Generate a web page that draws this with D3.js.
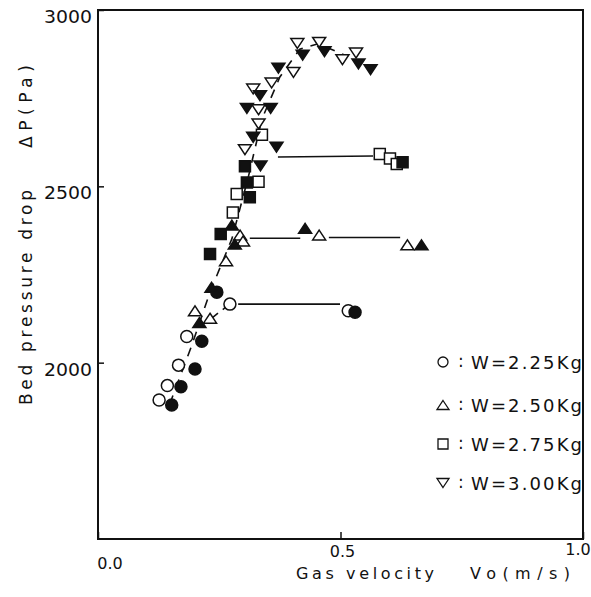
<!DOCTYPE html>
<html>
<head>
<meta charset="utf-8">
<script src="https://cdn.jsdelivr.net/npm/d3@7/dist/d3.min.js"></script>
<style>
  html, body { margin: 0; padding: 0; background: #fff; }
  svg { display: block; }
  text { font-family: "DejaVu Sans", sans-serif; fill: #111; }
</style>
</head>
<body>
<svg id="chart" width="591" height="597"></svg>
<script>
// [gas velocity (m/s), bed pressure drop (Pa)]; open = rising velocity, filled = falling
const w225Open = [[0.126,1894],[0.143,1935],[0.166,1993],[0.183,2074],[0.272,2166],[0.516,2147]];
const w225Fill = [[0.152,1880],[0.171,1932],[0.200,1982],[0.214,2061],[0.245,2200],[0.530,2143]];
const w250Open = [[0.200,2147],[0.231,2126],[0.264,2289],[0.293,2362],[0.299,2345],[0.456,2362],[0.638,2334]];
const w250Fill = [[0.209,2114],[0.234,2214],[0.276,2390],[0.282,2336],[0.427,2381],[0.667,2334]];
const w275Open = [[0.278,2426],[0.286,2478],[0.331,2513],[0.338,2646],[0.581,2592],[0.602,2579],[0.616,2563]];
const w275Fill = [[0.231,2308],[0.253,2365],[0.303,2557],[0.307,2511],[0.313,2469],[0.628,2568]];
const w300Open = [[0.303,2604],[0.320,2776],[0.331,2677],[0.331,2717],[0.358,2793],[0.403,2823],
                  [0.411,2905],[0.456,2908],[0.504,2859],[0.532,2878]];
const w300Fill = [[0.307,2721],[0.320,2639],[0.334,2757],[0.335,2558],[0.356,2721],[0.368,2611],
                  [0.372,2835],[0.422,2872],[0.467,2882],[0.537,2847],[0.562,2831]];

// dashed trend through the packed-bed branch, and the solid jump lines
const trend  = [[0.148,1883],[0.192,2044],[0.231,2200],[0.276,2351],[0.309,2521],[0.338,2691],
                [0.375,2810],[0.416,2889],[0.454,2904],[0.509,2872]];
const branch = [[0.236,2128],[0.266,2160]];
const jumps  = [
  [[0.289,2166],[0.499,2166]],
  [[0.313,2353],[0.417,2353]],
  [[0.476,2355],[0.623,2355]],
  [[0.371,2583],[0.567,2586]]
];

const xTicks = [0, 0.5, 1.0];
const yTicks = [2000, 2500, 3000];
const legendLabels = ['W=2.25Kg', 'W=2.50Kg', 'W=2.75Kg', 'W=3.00Kg'];
const legendShapes = ['circle', 'up', 'square', 'down'];

const series = [
  { data: w225Open, shape: 'circle', filled: false },
  { data: w250Open, shape: 'up',     filled: false },
  { data: w275Open, shape: 'square', filled: false },
  { data: w300Open, shape: 'down',   filled: false },
  { data: w225Fill, shape: 'circle', filled: true },
  { data: w250Fill, shape: 'up',     filled: true },
  { data: w275Fill, shape: 'square', filled: true },
  { data: w300Fill, shape: 'down',   filled: true }
];

const L = 98, R = 583, T = 10, B = 539;
const svg = d3.select('#chart');
const x = d3.scaleLinear().domain([0, 1]).range([L, R]);
const y = d3.scaleLinear().domain([1500, 3000]).range([B, T]);

// marker path centred at 0,0
function shapePath(kind, s) {
  const h = s / 2;
  if (kind === 'circle') {
    const p = d3.path(); p.arc(0, 0, h, 0, 2 * Math.PI); return p.toString();
  }
  if (kind === 'square') return `M${-h},${-h}H${h}V${h}H${-h}Z`;
  const t = s * 0.45;
  if (kind === 'up')   return `M0,${-t}L${h + 1},${t}L${-h - 1},${t}Z`;
  return `M0,${t}L${h + 1},${-t}L${-h - 1},${-t}Z`;
}

// lines
const line = d3.line().x(d => x(d[0])).y(d => y(d[1]));
svg.append('path').attr('d', line(trend))
  .attr('fill', 'none').attr('stroke', '#111').attr('stroke-width', 1.6)
  .attr('stroke-dasharray', '9,8');
svg.append('path').attr('d', line(branch))
  .attr('fill', 'none').attr('stroke', '#111').attr('stroke-width', 1.6)
  .attr('stroke-dasharray', '7,6');
svg.append('g').selectAll('path').data(jumps).join('path')
  .attr('d', line)
  .attr('fill', 'none').attr('stroke', '#111').attr('stroke-width', 1.6);

// markers
const mk = svg.append('g');
series.forEach(s => {
  mk.append('g').selectAll('path').data(s.data).join('path')
    .attr('transform', d => `translate(${x(d[0])},${y(d[1])})`)
    .attr('d', shapePath(s.shape, s.shape === 'circle' ? 12 : 11))
    .attr('fill', s.filled ? '#111' : '#fff')
    .attr('stroke', '#111').attr('stroke-width', 1.5);
});

// frame
svg.append('rect').attr('x', L).attr('y', T).attr('width', R - L).attr('height', B - T)
  .attr('fill', 'none').attr('stroke', '#111').attr('stroke-width', 2);

// y axis (inner ticks)
const yAxis = svg.append('g').attr('transform', `translate(${L},0)`)
  .call(d3.axisRight(y).tickValues(yTicks).tickSize(6).tickFormat(() => ''));
yAxis.select('.domain').remove();
yAxis.selectAll('line').attr('stroke', '#111').attr('stroke-width', 1.5);
svg.append('g').selectAll('text').data(yTicks).join('text')
  .attr('x', L - 6).attr('y', d => y(d) + 13)
  .attr('text-anchor', 'end').attr('font-size', 18)
  .attr('textLength', 48).attr('lengthAdjust', 'spacingAndGlyphs')
  .text(d => d);

// x axis (inner ticks)
const xAxis = svg.append('g').attr('transform', `translate(0,${B})`)
  .call(d3.axisTop(x).tickValues(xTicks).tickSize(7).tickFormat(() => ''));
xAxis.select('.domain').remove();
xAxis.selectAll('line').attr('stroke', '#111').attr('stroke-width', 1.5);
const xNudge = [[12, 30], [2, 18], [-5, 16]];
svg.append('g').selectAll('text').data(xTicks).join('text')
  .attr('x', (d, i) => x(d) + xNudge[i][0]).attr('y', (d, i) => B + xNudge[i][1])
  .attr('text-anchor', 'middle').attr('font-size', 16)
  .text(d => d3.format('.1f')(d));

// axis titles
svg.append('text').attr('x', 296).attr('y', 579).attr('font-size', 16)
  .attr('textLength', 138).attr('lengthAdjust', 'spacing').text('Gas velocity');
svg.append('text').attr('x', 470).attr('y', 579).attr('font-size', 16)
  .attr('textLength', 100).attr('lengthAdjust', 'spacing').text('Vo(m/s)');
svg.append('text').attr('transform', 'translate(32,405) rotate(-90)').attr('font-size', 17)
  .attr('textLength', 215).attr('lengthAdjust', 'spacing').text('Bed pressure drop');
svg.append('text').attr('transform', 'translate(32,148) rotate(-90)').attr('font-size', 17)
  .attr('textLength', 83).attr('lengthAdjust', 'spacing').text('ΔP(Pa)');

// legend
const legendY = [362, 405, 444, 483];
const lg = svg.append('g');
legendLabels.forEach((lab, i) => {
  lg.append('path')
    .attr('transform', `translate(443,${legendY[i]})`)
    .attr('d', shapePath(legendShapes[i], 10))
    .attr('fill', '#fff').attr('stroke', '#111').attr('stroke-width', 1.3);
  lg.append('text').attr('x', 458).attr('y', legendY[i] + 5).attr('font-size', 17).text(':');
  lg.append('text').attr('x', 471).attr('y', legendY[i] + 7).attr('font-size', 18)
    .attr('textLength', 111).attr('lengthAdjust', 'spacing').text(lab);
});
</script>
</body>
</html>
